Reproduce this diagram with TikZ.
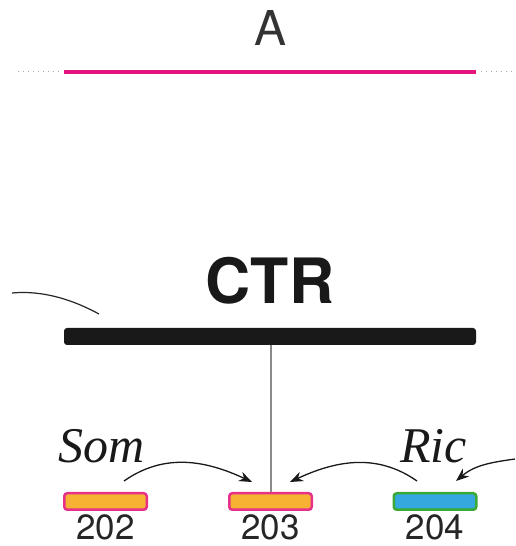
\documentclass[tikz,border=0pt]{standalone}
\usepackage{fontspec}
\setmainfont{TeX Gyre Heros}
\newfontfamily\serifit{Liberation Serif}
\usetikzlibrary{arrows.meta}
\definecolor{mag}{HTML}{E4137B}
\definecolor{orng}{HTML}{F7B233}
\definecolor{boxmag}{HTML}{E6308A}
\definecolor{blu}{HTML}{35A8E0}
\definecolor{grn}{HTML}{3BAA35}
\definecolor{vgray}{HTML}{8A8A8A}
\begin{document}
\begin{tikzpicture}[x=1pt,y=1pt,
  cellbox/.style={draw=boxmag,fill=orng,line width=2.5pt,rounded corners=3pt,
    minimum width=82.5pt,minimum height=16.5pt,inner sep=0pt},
  numlabel/.style={font=\fontsize{35}{35}\selectfont,inner sep=0pt,text=black!85},
  curvearrow/.style={line width=1.3pt,black!90,-{Stealth[length=13pt,width=10pt]}},
  wordlabel/.style={font=\serifit\itshape\fontsize{50}{50}\selectfont,inner sep=0pt,anchor=base west,text=black!90}
]
\useasboundingbox (0,0) rectangle (515,546);
% top
\node[inner sep=0pt,font=\fontsize{48}{48}\selectfont,text=black!80] (A) at (271,518) {A};
\coordinate (ml) at (64,474);
\coordinate (mr) at (476,474);
\coordinate (dl) at (18,474);
\coordinate (dr) at (515,474);
\draw[mag,line width=4pt] (ml) -- (mr);
\draw[gray!70,line width=1pt,dash pattern=on 1pt off 4pt] (dl) -- ([xshift=-5pt]ml);
\draw[gray!70,line width=1pt,dash pattern=on 1pt off 4pt] ([xshift=5pt]mr) -- (dr);
% CTR
\node[inner sep=0pt,font=\bfseries\fontsize{62.5}{62.5}\selectfont,text=black!90] (ctr) at (270,265.5) {CTR};
\node[fill=black!90,rounded corners=3pt,minimum width=412pt,minimum height=17pt,inner sep=0pt] (bar) at (270,209.5) {};
\coordinate (arcA) at (12,253);
\coordinate (arcB) at (99,232);
\draw[line width=1.2pt,black!85] (arcA) .. controls (45,256) and (75,245) .. (arcB);
% boxes
\node[cellbox] (b202) at (105.5,44.5) {};
\node[cellbox] (b203) at (270.5,44.5) {};
\node[cellbox,draw=grn,fill=blu] (b204) at (435,44.5) {};
\node[numlabel] (l202) at (105.5,18.5) {202};
\node[numlabel] (l203) at (270.5,18.5) {203};
\node[numlabel] (l204) at (435,18.5) {204};
\draw[vgray,line width=2pt] (bar.south -| b203.north) -- (b203.north);
% words
\node[wordlabel] (som) at (58,83) {Som};
\node[wordlabel] (ric) at (400,83) {Ric};
% arrows
\coordinate (s0) at (124,65);
\coordinate (s1) at (252,64);
\coordinate (r0) at (417,65);
\coordinate (r1) at (290,64);
\coordinate (q0) at (515,87);
\coordinate (q1) at (456,65);
\draw[curvearrow] (s0) to[out=35,in=155] (s1);
\draw[curvearrow] (r0) to[out=145,in=25] (r1);
\draw[curvearrow] (q0) to[out=188,in=40] (q1);
\end{tikzpicture}
\end{document}
